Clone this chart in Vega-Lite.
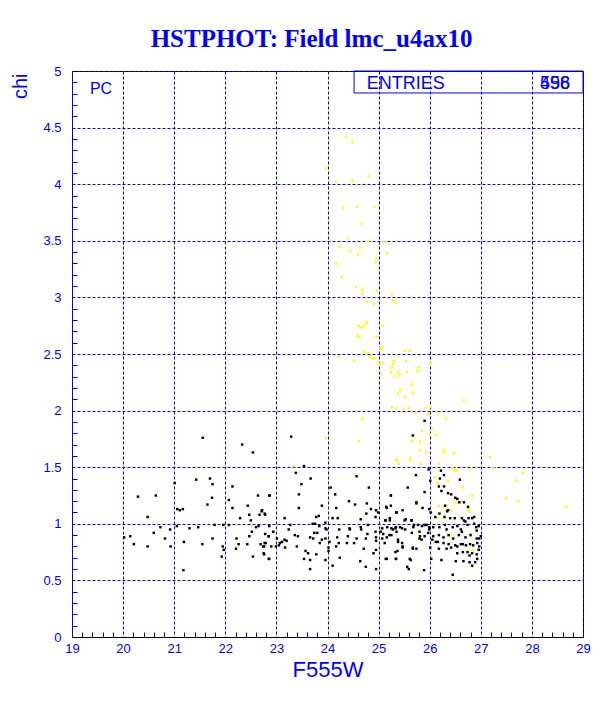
{
  "$schema": "https://vega.github.io/schema/vega-lite/v6.json",
  "width": 511,
  "height": 566,
  "autosize": "none",
  "padding": {"left": 72, "top": 71, "right": 29, "bottom": 72},
  "background": "white",
  "title": {
    "text": "HSTPHOT: Field lmc_u4ax10",
    "font": "Liberation Serif",
    "fontSize": 25,
    "fontWeight": "bold",
    "color": "#0000ff",
    "anchor": "middle",
    "baseline": "alphabetic",
    "offset": 24,
    "dx": -16,
    "dy": 31
  },
  "config": {
    "view": {"stroke": "black", "strokeWidth": 1},
    "axis": {
      "labelFont": "Liberation Sans",
      "titleFont": "Liberation Sans",
      "labelColor": "#0000ff",
      "titleColor": "#0000ff",
      "tickColor": "#0000ff",
      "gridColor": "#0000ff",
      "gridDash": [3, 2],
      "gridOpacity": 1,
      "gridWidth": 1,
      "tickOpacity": 1,
      "domainOpacity": 1
    }
  },
  "datasets": {
    "black": [
      {"F555W": 22.54, "chi": 1.63}, {"F555W": 21.70, "chi": 1.40}, {"F555W": 21.75, "chi": 1.35}, {"F555W": 21.43, "chi": 1.39},
      {"F555W": 21.01, "chi": 1.36}, {"F555W": 22.14, "chi": 1.33}, {"F555W": 20.29, "chi": 1.24}, {"F555W": 20.64, "chi": 1.25},
      {"F555W": 21.74, "chi": 1.23}, {"F555W": 22.07, "chi": 1.21}, {"F555W": 22.64, "chi": 1.25}, {"F555W": 22.86, "chi": 1.25},
      {"F555W": 21.65, "chi": 1.17}, {"F555W": 22.14, "chi": 1.14}, {"F555W": 22.44, "chi": 1.16}, {"F555W": 22.71, "chi": 1.11},
      {"F555W": 21.06, "chi": 1.13}, {"F555W": 21.17, "chi": 1.13}, {"F555W": 21.11, "chi": 1.12}, {"F555W": 22.47, "chi": 1.08},
      {"F555W": 22.29, "chi": 1.05}, {"F555W": 22.67, "chi": 1.08}, {"F555W": 22.78, "chi": 1.08}, {"F555W": 20.48, "chi": 1.06},
      {"F555W": 22.50, "chi": 1.03}, {"F555W": 21.05, "chi": 0.98}, {"F555W": 21.30, "chi": 0.96}, {"F555W": 21.47, "chi": 0.97},
      {"F555W": 21.79, "chi": 0.99}, {"F555W": 21.96, "chi": 0.99}, {"F555W": 22.07, "chi": 0.99}, {"F555W": 22.60, "chi": 0.97},
      {"F555W": 22.65, "chi": 0.98}, {"F555W": 22.86, "chi": 0.98}, {"F555W": 20.73, "chi": 0.97}, {"F555W": 20.92, "chi": 0.95},
      {"F555W": 20.60, "chi": 0.92}, {"F555W": 20.02, "chi": 0.88}, {"F555W": 20.14, "chi": 0.89}, {"F555W": 20.82, "chi": 0.87},
      {"F555W": 20.21, "chi": 0.82}, {"F555W": 20.48, "chi": 0.80}, {"F555W": 20.93, "chi": 0.80}, {"F555W": 21.19, "chi": 0.84},
      {"F555W": 21.55, "chi": 0.82}, {"F555W": 21.75, "chi": 0.87}, {"F555W": 21.95, "chi": 0.80}, {"F555W": 21.97, "chi": 0.77},
      {"F555W": 21.93, "chi": 0.71}, {"F555W": 22.22, "chi": 0.87}, {"F555W": 22.21, "chi": 0.78}, {"F555W": 22.26, "chi": 0.82},
      {"F555W": 22.47, "chi": 0.89}, {"F555W": 22.43, "chi": 0.82}, {"F555W": 22.54, "chi": 0.71}, {"F555W": 22.69, "chi": 0.82},
      {"F555W": 22.76, "chi": 0.80}, {"F555W": 22.75, "chi": 0.74}, {"F555W": 22.79, "chi": 0.83}, {"F555W": 22.85, "chi": 0.89},
      {"F555W": 22.85, "chi": 0.69}, {"F555W": 22.52, "chi": 0.93}, {"F555W": 22.78, "chi": 0.91}, {"F555W": 21.18, "chi": 0.59},
      {"F555W": 21.56, "chi": 1.76}, {"F555W": 22.33, "chi": 1.70}, {"F555W": 23.29, "chi": 1.77},
      {"F555W": 23.54, "chi": 1.51}, {"F555W": 23.67, "chi": 1.40}, {"F555W": 23.49, "chi": 1.35}, {"F555W": 23.38, "chi": 1.45},
      {"F555W": 22.87, "chi": 1.25}, {"F555W": 23.44, "chi": 1.26}, {"F555W": 23.44, "chi": 1.14}, {"F555W": 22.72, "chi": 1.12},
      {"F555W": 22.77, "chi": 1.09}, {"F555W": 23.16, "chi": 1.05}, {"F555W": 23.89, "chi": 1.16}, {"F555W": 23.83, "chi": 1.07},
      {"F555W": 23.78, "chi": 1.06}, {"F555W": 23.71, "chi": 1.00}, {"F555W": 23.76, "chi": 1.00}, {"F555W": 23.84, "chi": 0.98},
      {"F555W": 23.96, "chi": 1.01}, {"F555W": 24.06, "chi": 1.32}, {"F555W": 24.15, "chi": 1.26}, {"F555W": 24.57, "chi": 1.42},
      {"F555W": 24.81, "chi": 1.32}, {"F555W": 24.42, "chi": 1.20}, {"F555W": 24.54, "chi": 1.17}, {"F555W": 24.20, "chi": 1.05},
      {"F555W": 24.17, "chi": 1.14}, {"F555W": 24.65, "chi": 1.04}, {"F555W": 24.76, "chi": 1.09}, {"F555W": 24.85, "chi": 1.13},
      {"F555W": 24.77, "chi": 1.18}, {"F555W": 24.95, "chi": 1.12}, {"F555W": 24.99, "chi": 1.10}, {"F555W": 25.24, "chi": 1.25},
      {"F555W": 25.57, "chi": 1.32}, {"F555W": 25.74, "chi": 1.18}, {"F555W": 25.15, "chi": 1.15}, {"F555W": 25.24, "chi": 1.16},
      {"F555W": 25.35, "chi": 1.10}, {"F555W": 25.47, "chi": 1.12}, {"F555W": 24.94, "chi": 1.06}, {"F555W": 25.14, "chi": 1.03},
      {"F555W": 25.22, "chi": 1.03}, {"F555W": 25.53, "chi": 1.04}, {"F555W": 25.65, "chi": 1.03}, {"F555W": 25.17, "chi": 0.97},
      {"F555W": 25.34, "chi": 0.97}, {"F555W": 25.46, "chi": 0.96}, {"F555W": 25.69, "chi": 0.99}, {"F555W": 25.77, "chi": 0.99},
      {"F555W": 25.80, "chi": 0.93}, {"F555W": 25.28, "chi": 0.95}, {"F555W": 24.94, "chi": 0.93}, {"F555W": 25.04, "chi": 0.93},
      {"F555W": 24.79, "chi": 0.99}, {"F555W": 24.65, "chi": 0.97}, {"F555W": 24.44, "chi": 0.95}, {"F555W": 24.78, "chi": 0.91},
      {"F555W": 24.75, "chi": 0.87}, {"F555W": 24.95, "chi": 0.88}, {"F555W": 24.95, "chi": 0.85}, {"F555W": 25.07, "chi": 0.87},
      {"F555W": 25.21, "chi": 0.90}, {"F555W": 25.38, "chi": 0.84}, {"F555W": 25.47, "chi": 0.79}, {"F555W": 25.67, "chi": 0.78},
      {"F555W": 25.74, "chi": 0.78}, {"F555W": 25.33, "chi": 0.75}, {"F555W": 25.61, "chi": 0.69}, {"F555W": 25.56, "chi": 0.62},
      {"F555W": 25.59, "chi": 0.60}, {"F555W": 25.34, "chi": 0.69}, {"F555W": 25.14, "chi": 0.69}, {"F555W": 24.95, "chi": 0.60},
      {"F555W": 24.75, "chi": 0.62}, {"F555W": 24.64, "chi": 0.67}, {"F555W": 24.90, "chi": 0.74}, {"F555W": 24.95, "chi": 0.77},
      {"F555W": 24.71, "chi": 0.78}, {"F555W": 24.52, "chi": 0.83}, {"F555W": 24.38, "chi": 0.83}, {"F555W": 24.19, "chi": 0.88},
      {"F555W": 24.22, "chi": 0.83}, {"F555W": 24.40, "chi": 0.89}, {"F555W": 24.24, "chi": 0.70}, {"F555W": 24.10, "chi": 0.63},
      {"F555W": 24.02, "chi": 0.79}, {"F555W": 24.02, "chi": 0.76}, {"F555W": 23.96, "chi": 0.68}, {"F555W": 24.17, "chi": 0.80},
      {"F555W": 23.96, "chi": 0.87}, {"F555W": 24.04, "chi": 0.84}, {"F555W": 23.89, "chi": 0.86}, {"F555W": 23.85, "chi": 0.83},
      {"F555W": 23.96, "chi": 0.96}, {"F555W": 23.80, "chi": 0.92}, {"F555W": 23.74, "chi": 0.92}, {"F555W": 23.66, "chi": 0.88},
      {"F555W": 23.72, "chi": 0.87}, {"F555W": 23.57, "chi": 0.76}, {"F555W": 23.62, "chi": 0.74}, {"F555W": 23.54, "chi": 0.69},
      {"F555W": 23.66, "chi": 0.68}, {"F555W": 23.66, "chi": 0.60}, {"F555W": 23.78, "chi": 0.73}, {"F555W": 23.40, "chi": 0.80},
      {"F555W": 23.36, "chi": 0.90}, {"F555W": 23.42, "chi": 0.89}, {"F555W": 23.24, "chi": 0.95}, {"F555W": 23.27, "chi": 0.99},
      {"F555W": 23.16, "chi": 0.86}, {"F555W": 23.20, "chi": 0.85}, {"F555W": 23.11, "chi": 0.84}, {"F555W": 23.07, "chi": 0.83},
      {"F555W": 23.05, "chi": 0.81}, {"F555W": 23.17, "chi": 0.79}, {"F555W": 22.99, "chi": 0.80}, {"F555W": 23.01, "chi": 0.87},
      {"F555W": 22.94, "chi": 0.93}, {"F555W": 22.85, "chi": 0.89}, {"F555W": 22.77, "chi": 0.83}, {"F555W": 22.74, "chi": 0.80},
      {"F555W": 22.90, "chi": 0.80}, {"F555W": 22.76, "chi": 0.73}, {"F555W": 22.86, "chi": 0.69}, {"F555W": 24.10, "chi": 1.05},
      {"F555W": 23.98, "chi": 0.95}, {"F555W": 24.57, "chi": 0.87}, {"F555W": 24.66, "chi": 0.95}, {"F555W": 24.23, "chi": 0.95},
      {"F555W": 24.43, "chi": 0.96},
      {"F555W": 25.73, "chi": 1.43}, {"F555W": 25.98, "chi": 1.48}, {"F555W": 26.22, "chi": 1.47}, {"F555W": 26.28, "chi": 1.43},
      {"F555W": 26.01, "chi": 1.38}, {"F555W": 26.20, "chi": 1.40}, {"F555W": 26.59, "chi": 1.39}, {"F555W": 26.18, "chi": 1.33},
      {"F555W": 26.28, "chi": 1.33}, {"F555W": 25.90, "chi": 1.28}, {"F555W": 26.23, "chi": 1.29}, {"F555W": 26.36, "chi": 1.27},
      {"F555W": 26.42, "chi": 1.26}, {"F555W": 26.50, "chi": 1.23}, {"F555W": 26.54, "chi": 1.22}, {"F555W": 26.58, "chi": 1.19},
      {"F555W": 26.67, "chi": 1.19}, {"F555W": 26.75, "chi": 1.15}, {"F555W": 25.24, "chi": 1.25}, {"F555W": 25.74, "chi": 1.19},
      {"F555W": 25.86, "chi": 1.14}, {"F555W": 25.99, "chi": 1.13}, {"F555W": 26.02, "chi": 1.10}, {"F555W": 26.30, "chi": 1.16},
      {"F555W": 26.34, "chi": 1.11}, {"F555W": 26.36, "chi": 1.12}, {"F555W": 26.19, "chi": 1.09}, {"F555W": 26.11, "chi": 1.06},
      {"F555W": 26.29, "chi": 1.06}, {"F555W": 26.40, "chi": 1.05}, {"F555W": 26.49, "chi": 1.05}, {"F555W": 26.63, "chi": 1.05},
      {"F555W": 26.67, "chi": 1.03}, {"F555W": 26.70, "chi": 1.02}, {"F555W": 26.76, "chi": 1.05}, {"F555W": 26.83, "chi": 1.05},
      {"F555W": 26.87, "chi": 1.06}, {"F555W": 25.16, "chi": 1.14}, {"F555W": 25.35, "chi": 1.10}, {"F555W": 25.51, "chi": 1.03},
      {"F555W": 25.64, "chi": 1.03}, {"F555W": 25.22, "chi": 1.05}, {"F555W": 25.13, "chi": 1.03}, {"F555W": 25.07, "chi": 0.96},
      {"F555W": 25.25, "chi": 0.96}, {"F555W": 25.33, "chi": 0.96}, {"F555W": 25.42, "chi": 0.97}, {"F555W": 25.52, "chi": 0.95},
      {"F555W": 25.68, "chi": 0.97}, {"F555W": 25.85, "chi": 0.98}, {"F555W": 25.90, "chi": 0.99}, {"F555W": 25.94, "chi": 0.99},
      {"F555W": 25.99, "chi": 0.97}, {"F555W": 25.99, "chi": 0.95}, {"F555W": 26.07, "chi": 0.97}, {"F555W": 26.19, "chi": 0.97},
      {"F555W": 26.30, "chi": 0.99}, {"F555W": 26.33, "chi": 0.95}, {"F555W": 26.45, "chi": 0.97}, {"F555W": 26.54, "chi": 0.98},
      {"F555W": 26.61, "chi": 0.95}, {"F555W": 26.74, "chi": 0.99}, {"F555W": 26.87, "chi": 1.00}, {"F555W": 26.91, "chi": 0.97},
      {"F555W": 26.96, "chi": 0.98}, {"F555W": 26.92, "chi": 0.94}, {"F555W": 27.00, "chi": 0.89}, {"F555W": 26.92, "chi": 0.87},
      {"F555W": 26.97, "chi": 0.87}, {"F555W": 26.80, "chi": 0.90}, {"F555W": 26.70, "chi": 0.88}, {"F555W": 26.63, "chi": 0.93},
      {"F555W": 26.57, "chi": 0.90}, {"F555W": 26.46, "chi": 0.87}, {"F555W": 26.37, "chi": 0.90}, {"F555W": 26.27, "chi": 0.88},
      {"F555W": 26.18, "chi": 0.90}, {"F555W": 26.07, "chi": 0.89}, {"F555W": 25.97, "chi": 0.92}, {"F555W": 25.90, "chi": 0.89},
      {"F555W": 25.80, "chi": 0.87}, {"F555W": 25.65, "chi": 0.92}, {"F555W": 25.35, "chi": 0.93}, {"F555W": 25.25, "chi": 0.90},
      {"F555W": 25.16, "chi": 0.88}, {"F555W": 25.09, "chi": 0.91}, {"F555W": 25.12, "chi": 0.83}, {"F555W": 25.38, "chi": 0.86},
      {"F555W": 25.46, "chi": 0.83}, {"F555W": 25.81, "chi": 0.89}, {"F555W": 25.84, "chi": 0.86}, {"F555W": 26.05, "chi": 0.86},
      {"F555W": 26.12, "chi": 0.84}, {"F555W": 26.16, "chi": 0.84}, {"F555W": 26.27, "chi": 0.83}, {"F555W": 26.37, "chi": 0.82},
      {"F555W": 26.50, "chi": 0.81}, {"F555W": 26.54, "chi": 0.80}, {"F555W": 26.61, "chi": 0.82}, {"F555W": 26.65, "chi": 0.82},
      {"F555W": 26.71, "chi": 0.81}, {"F555W": 26.79, "chi": 0.82}, {"F555W": 26.85, "chi": 0.81}, {"F555W": 26.93, "chi": 0.83},
      {"F555W": 26.97, "chi": 0.80}, {"F555W": 26.96, "chi": 0.77}, {"F555W": 26.92, "chi": 0.73}, {"F555W": 26.83, "chi": 0.74},
      {"F555W": 26.74, "chi": 0.75}, {"F555W": 26.78, "chi": 0.72}, {"F555W": 26.65, "chi": 0.75}, {"F555W": 26.54, "chi": 0.74},
      {"F555W": 26.42, "chi": 0.79}, {"F555W": 26.33, "chi": 0.78}, {"F555W": 26.18, "chi": 0.78}, {"F555W": 26.01, "chi": 0.79},
      {"F555W": 25.67, "chi": 0.79}, {"F555W": 25.47, "chi": 0.80}, {"F555W": 25.37, "chi": 0.76}, {"F555W": 25.16, "chi": 0.69},
      {"F555W": 25.34, "chi": 0.69}, {"F555W": 25.63, "chi": 0.68}, {"F555W": 26.03, "chi": 0.69}, {"F555W": 26.23, "chi": 0.68},
      {"F555W": 26.51, "chi": 0.67}, {"F555W": 26.66, "chi": 0.67}, {"F555W": 26.78, "chi": 0.66}, {"F555W": 26.89, "chi": 0.66},
      {"F555W": 26.93, "chi": 0.69}, {"F555W": 25.89, "chi": 0.59}, {"F555W": 26.45, "chi": 0.55}, {"F555W": 26.83, "chi": 0.63},
      {"F555W": 25.90, "chi": 1.91}, {"F555W": 25.67, "chi": 1.78}
    ],
    "yellow": [
      {"F555W": 24.36, "chi": 4.42}, {"F555W": 24.49, "chi": 4.37}, {"F555W": 23.97, "chi": 4.14}, {"F555W": 24.81, "chi": 4.07},
      {"F555W": 24.17, "chi": 4.02}, {"F555W": 24.49, "chi": 4.03}, {"F555W": 24.30, "chi": 3.79}, {"F555W": 24.58, "chi": 3.80},
      {"F555W": 24.92, "chi": 3.80}, {"F555W": 24.67, "chi": 3.65}, {"F555W": 24.40, "chi": 3.52}, {"F555W": 24.79, "chi": 3.50},
      {"F555W": 25.10, "chi": 3.49}, {"F555W": 24.24, "chi": 3.45}, {"F555W": 24.64, "chi": 3.44}, {"F555W": 24.44, "chi": 3.41},
      {"F555W": 24.60, "chi": 3.38}, {"F555W": 24.96, "chi": 3.34}, {"F555W": 25.16, "chi": 3.39}, {"F555W": 24.17, "chi": 3.30},
      {"F555W": 24.95, "chi": 3.31}, {"F555W": 24.28, "chi": 3.18}, {"F555W": 24.56, "chi": 3.09}, {"F555W": 24.68, "chi": 3.07},
      {"F555W": 24.68, "chi": 3.03}, {"F555W": 24.97, "chi": 3.06}, {"F555W": 25.26, "chi": 3.03}, {"F555W": 25.28, "chi": 2.97},
      {"F555W": 25.34, "chi": 2.95}, {"F555W": 24.77, "chi": 2.96}, {"F555W": 24.91, "chi": 2.94}, {"F555W": 24.77, "chi": 2.78},
      {"F555W": 24.74, "chi": 2.76}, {"F555W": 24.61, "chi": 2.75}, {"F555W": 24.64, "chi": 2.74}, {"F555W": 24.69, "chi": 2.73},
      {"F555W": 25.08, "chi": 2.75}, {"F555W": 24.59, "chi": 2.66}, {"F555W": 24.62, "chi": 2.65}, {"F555W": 24.96, "chi": 2.65},
      {"F555W": 25.03, "chi": 2.55}, {"F555W": 25.07, "chi": 2.55}, {"F555W": 24.72, "chi": 2.52}, {"F555W": 24.79, "chi": 2.51},
      {"F555W": 24.22, "chi": 2.48}, {"F555W": 24.83, "chi": 2.48}, {"F555W": 24.88, "chi": 2.46}, {"F555W": 24.93, "chi": 2.46},
      {"F555W": 25.51, "chi": 2.53}, {"F555W": 25.61, "chi": 2.53}, {"F555W": 24.52, "chi": 2.44}, {"F555W": 25.30, "chi": 2.44},
      {"F555W": 25.54, "chi": 2.44}, {"F555W": 25.00, "chi": 2.42}, {"F555W": 25.07, "chi": 2.42}, {"F555W": 25.28, "chi": 2.41},
      {"F555W": 25.26, "chi": 2.38}, {"F555W": 25.78, "chi": 2.38}, {"F555W": 26.02, "chi": 2.42},
      {"F555W": 25.24, "chi": 2.34}, {"F555W": 25.38, "chi": 2.34}, {"F555W": 25.55, "chi": 2.34}, {"F555W": 25.31, "chi": 2.30},
      {"F555W": 25.42, "chi": 2.31}, {"F555W": 25.05, "chi": 2.32}, {"F555W": 25.76, "chi": 2.35}, {"F555W": 25.65, "chi": 2.23},
      {"F555W": 25.42, "chi": 2.18}, {"F555W": 25.38, "chi": 2.15}, {"F555W": 25.67, "chi": 2.16}, {"F555W": 25.52, "chi": 2.12},
      {"F555W": 25.26, "chi": 2.03}, {"F555W": 25.35, "chi": 2.02}, {"F555W": 25.59, "chi": 2.02}, {"F555W": 25.48, "chi": 2.01},
      {"F555W": 26.67, "chi": 2.09}, {"F555W": 26.02, "chi": 2.03}, {"F555W": 25.91, "chi": 2.02}, {"F555W": 25.73, "chi": 1.98},
      {"F555W": 25.98, "chi": 1.97}, {"F555W": 26.16, "chi": 1.97}, {"F555W": 24.68, "chi": 1.93}, {"F555W": 26.32, "chi": 1.93},
      {"F555W": 26.05, "chi": 1.84}, {"F555W": 25.85, "chi": 1.82}, {"F555W": 26.00, "chi": 1.79}, {"F555W": 26.12, "chi": 1.78},
      {"F555W": 23.97, "chi": 1.76}, {"F555W": 24.61, "chi": 1.73}, {"F555W": 25.65, "chi": 1.73}, {"F555W": 25.81, "chi": 1.73},
      {"F555W": 25.81, "chi": 1.65}, {"F555W": 25.93, "chi": 1.63}, {"F555W": 26.28, "chi": 1.65}, {"F555W": 26.28, "chi": 1.63},
      {"F555W": 26.48, "chi": 1.62}, {"F555W": 27.18, "chi": 1.59}, {"F555W": 25.35, "chi": 1.57}, {"F555W": 25.63, "chi": 1.58},
      {"F555W": 27.25, "chi": 1.49}, {"F555W": 27.83, "chi": 1.45}, {"F555W": 27.70, "chi": 1.38}, {"F555W": 27.49, "chi": 1.23},
      {"F555W": 27.73, "chi": 1.20}, {"F555W": 28.67, "chi": 1.15}, {"F555W": 25.81, "chi": 1.72}, {"F555W": 25.35, "chi": 1.56},
      {"F555W": 25.39, "chi": 1.53}, {"F555W": 25.61, "chi": 1.56}, {"F555W": 25.82, "chi": 1.53}, {"F555W": 26.18, "chi": 1.53},
      {"F555W": 26.45, "chi": 1.49}, {"F555W": 26.49, "chi": 1.47}, {"F555W": 26.53, "chi": 1.47}, {"F555W": 26.79, "chi": 1.48},
      {"F555W": 26.11, "chi": 1.41}, {"F555W": 26.16, "chi": 1.36}, {"F555W": 26.36, "chi": 1.38}, {"F555W": 26.65, "chi": 1.32},
      {"F555W": 26.84, "chi": 1.25}, {"F555W": 26.55, "chi": 1.19}, {"F555W": 26.51, "chi": 1.19}, {"F555W": 26.33, "chi": 1.16},
      {"F555W": 26.18, "chi": 1.16}, {"F555W": 26.33, "chi": 1.12}, {"F555W": 26.41, "chi": 1.12}, {"F555W": 26.76, "chi": 1.13},
      {"F555W": 26.76, "chi": 1.11}, {"F555W": 26.27, "chi": 1.05}, {"F555W": 26.15, "chi": 1.05}, {"F555W": 26.61, "chi": 1.05},
      {"F555W": 26.79, "chi": 0.91}, {"F555W": 26.41, "chi": 0.89}, {"F555W": 26.84, "chi": 0.77}, {"F555W": 26.84, "chi": 0.62},
      {"F555W": 23.34, "chi": 1.51}
    ]
  },
  "layer": [
    {
      "data": {"name": "yellow"},
      "mark": {"type": "point", "shape": "square", "filled": true, "size": 6, "color": "#ffff00", "opacity": 1},
      "encoding": {
        "x": {
          "field": "F555W", "type": "quantitative",
          "scale": {"domain": [19, 29], "nice": false, "zero": false},
          "axis": {
            "orient": "top", "offset": -566, "title": null, "labels": false, "grid": false, "domain": false,
            "ticks": true, "tickSize": 5, "tickColor": "#0000ff",
            "values": [19.2, 19.4, 19.6, 19.8, 20.2, 20.4, 20.6, 20.8, 21.2, 21.4, 21.6, 21.8, 22.2, 22.4, 22.6, 22.8, 23.2, 23.4, 23.6, 23.8, 24.2, 24.4, 24.6, 24.8, 25.2, 25.4, 25.6, 25.8, 26.2, 26.4, 26.6, 26.8, 27.2, 27.4, 27.6, 27.8, 28.2, 28.4, 28.6, 28.8]
          }
        },
        "y": {
          "field": "chi", "type": "quantitative",
          "scale": {"domain": [0, 5], "nice": false, "zero": false},
          "axis": {
            "orient": "right", "offset": -511, "title": null, "labels": false, "grid": false, "domain": false,
            "ticks": true, "tickSize": 5, "tickColor": "#0000ff",
            "values": [0.1, 0.2, 0.3, 0.4, 0.6, 0.7, 0.8, 0.9, 1.1, 1.2, 1.3, 1.4, 1.6, 1.7, 1.8, 1.9, 2.1, 2.2, 2.3, 2.4, 2.6, 2.7, 2.8, 2.9, 3.1, 3.2, 3.3, 3.4, 3.6, 3.7, 3.8, 3.9, 4.1, 4.2, 4.3, 4.4, 4.6, 4.7, 4.8, 4.9]
          }
        }
      }
    },
    {
      "data": {"name": "black"},
      "mark": {"type": "point", "shape": "square", "filled": true, "size": 6, "color": "#000000", "opacity": 1},
      "encoding": {
        "x": {
          "field": "F555W", "type": "quantitative",
          "scale": {"domain": [19, 29], "nice": false, "zero": false},
          "axis": {
            "orient": "bottom", "title": "F555W", "values": [19, 20, 21, 22, 23, 24, 25, 26, 27, 28, 29],
            "grid": true, "ticks": false, "domain": true, "domainColor": "#000000",
            "labelFontSize": 13, "labelPadding": 5, "labelFlush": false,
            "titleFontSize": 22, "titleFontWeight": "normal", "titleBaseline": "alphabetic", "titleY": 39
          }
        },
        "y": {
          "field": "chi", "type": "quantitative",
          "scale": {"domain": [0, 5], "nice": false, "zero": false},
          "axis": {
            "orient": "left", "title": "chi", "values": [0, 0.5, 1, 1.5, 2, 2.5, 3, 3.5, 4, 4.5, 5],
            "format": "~g", "grid": true, "ticks": false, "domain": true, "domainColor": "#0000ff",
            "labelFontSize": 13, "labelPadding": 11, "labelFlush": false,
            "titleFontSize": 20, "titleFontWeight": "normal", "titleAngle": -90,
            "titleX": -52, "titleY": 2, "titleAlign": "right", "titleBaseline": "middle"
          }
        }
      }
    },
    {
      "data": {"values": [{}]},
      "mark": {"type": "rect", "fill": null, "stroke": "#0000ff", "strokeWidth": 1},
      "encoding": {
        "x": {"datum": 24.52, "type": "quantitative", "axis": null},
        "x2": {"datum": 29},
        "y": {"datum": 4.806, "type": "quantitative", "axis": null},
        "y2": {"datum": 5}
      }
    },
    {
      "data": {"values": [{}]},
      "mark": {"type": "text", "font": "Liberation Sans Narrow, Liberation Sans", "fontSize": 18, "color": "#0000ff", "align": "left", "baseline": "alphabetic"},
      "encoding": {
        "x": {"datum": 24.77, "type": "quantitative", "axis": null},
        "y": {"datum": 4.837, "type": "quantitative", "axis": null},
        "text": {"value": "ENTRIES"}
      }
    },
    {
      "data": {"values": [{}]},
      "mark": {"type": "text", "font": "Liberation Sans Narrow, Liberation Sans", "fontSize": 18, "color": "#0000ff", "align": "right", "baseline": "alphabetic"},
      "encoding": {
        "x": {"datum": 28.745, "type": "quantitative", "axis": null},
        "y": {"datum": 4.837, "type": "quantitative", "axis": null},
        "text": {"value": "598"}
      }
    },
    {
      "data": {"values": [{}]},
      "mark": {"type": "text", "font": "Liberation Sans Narrow, Liberation Sans", "fontSize": 18, "color": "#0000ff", "align": "right", "baseline": "alphabetic"},
      "encoding": {
        "x": {"datum": 28.745, "type": "quantitative", "axis": null},
        "y": {"datum": 4.837, "type": "quantitative", "axis": null},
        "text": {"value": "456"}
      }
    },
    {
      "data": {"values": [{}]},
      "mark": {"type": "text", "font": "Liberation Sans Narrow, Liberation Sans", "fontSize": 16, "color": "#0000ff", "align": "left", "baseline": "alphabetic"},
      "encoding": {
        "x": {"datum": 19.35, "type": "quantitative", "axis": null},
        "y": {"datum": 4.797, "type": "quantitative", "axis": null},
        "text": {"value": "PC"}
      }
    }
  ],
  "resolve": {"axis": {"x": "independent", "y": "independent"}}
}
